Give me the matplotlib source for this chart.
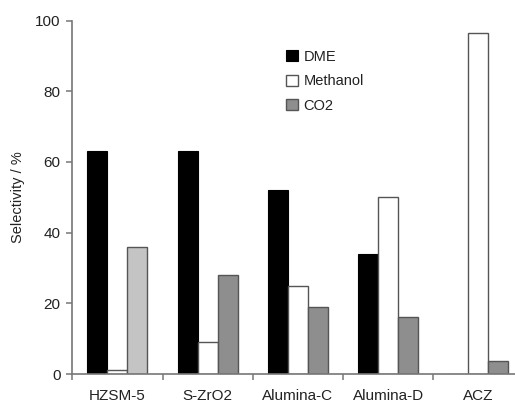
import numpy as np
import matplotlib
matplotlib.use("Agg")
import matplotlib.pyplot as plt

plt.rcParams['font.family'] = ['Liberation Sans', 'DejaVu Sans']

# selectivity per catalyst (%)
catalysts = ['HZSM-5', 'S-ZrO2', 'Alumina-C', 'Alumina-D', 'ACZ']
dme = [63, 63, 52, 34, 0]
methanol = [1, 9, 25, 50, 96.5]
co2 = [36, 28, 19, 16, 3.7]
co2_colors = ['#c4c4c4', '#8e8e8e', '#8e8e8e', '#8e8e8e', '#8e8e8e']

fig = plt.figure(figsize=(5.15, 4.05), dpi=100)
# axes run past the right edge of the figure, last group is clipped
ax = fig.add_axes([72.3 / 515, 31 / 405, 451.2 / 515, 353.5 / 405])

x = np.arange(len(catalysts)) + 0.5
w = 0.222
edge = '#555555'
ax.bar(x - w, dme, w, color='black', edgecolor='black', linewidth=0.8, label='DME')
ax.bar(x, methanol, w, color='white', edgecolor=edge, linewidth=1.0, label='Methanol')
ax.bar(x + w, co2, w, color=co2_colors, edgecolor=edge, linewidth=1.0, label='CO2')

ax.set_xlim(0, 5)
ax.set_ylim(0, 100)
ax.set_yticks(np.arange(0, 101, 20))

# boundary ticks between groups, names centred underneath
ax.set_xticks(np.arange(0, 6))
ax.set_xticklabels([])
ax.set_xticks(x, minor=True)
ax.set_xticklabels(catalysts, minor=True, fontsize=11, color='#222222')
ax.tick_params(axis='x', which='minor', length=0, pad=11)
ax.tick_params(axis='x', which='major', direction='out', length=4.3, width=1.1, color='#777777')
ax.tick_params(axis='y', direction='out', length=4, width=1.1, color='#777777',
               labelsize=11, labelcolor='#222222', pad=4.5)

for s in ['top', 'right']:
    ax.spines[s].set_visible(False)
for s in ['left', 'bottom']:
    ax.spines[s].set_color('#777777')
    ax.spines[s].set_linewidth(1.2)

ax.set_ylabel('Selectivity / %', fontsize=10.5, color='#222222')
ax.yaxis.set_label_coords(-0.105, 0.5)

leg = ax.legend(loc='upper left', bbox_to_anchor=(0.445, 0.954), frameon=False,
                fontsize=10.5, handlelength=0.8, handleheight=0.8,
                handletextpad=0.4, labelspacing=0.72)
# CO2 key uses the usual mid grey, not the lighter first bar
leg.legend_handles[2].set_facecolor(co2_colors[1])
for t in leg.get_texts():
    t.set_color('#222222')

fig.savefig('out.png', dpi=100)
